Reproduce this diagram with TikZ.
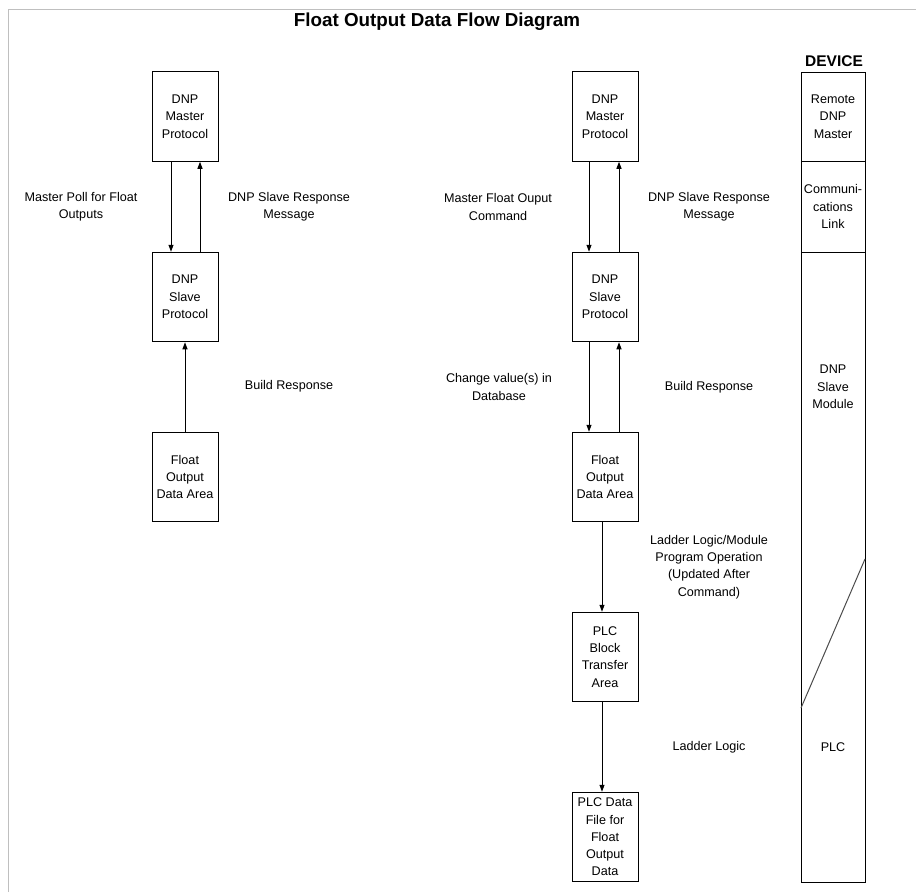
\documentclass[tikz,border=0pt]{standalone}
\usepackage{fontspec}
\setmainfont{Liberation Sans}
\usetikzlibrary{arrows.meta}
\begin{document}
\begin{tikzpicture}[x=1pt,y=-1pt,
  txt/.style={font=\fontsize{12.6}{17.3}\selectfont, align=center, inner sep=0pt},
  box/.style={draw, line width=1pt, minimum width=66pt, minimum height=89.5pt, inner sep=0pt, txt},
  devbox/.style={draw, line width=1pt, minimum width=64pt, inner sep=0pt, txt},
  arr/.style={line width=1pt, -{Triangle[length=7pt,width=5pt]}},
  frameline/.style={draw=black!25, line width=1pt}]
\useasboundingbox (0,0) rectangle (916,892);
\draw[frameline] (8,892) -- (8,9) -- (916,9);
\node[font=\bfseries\fontsize{18.8}{22}\selectfont, inner sep=0pt] (title) at (437,22) {Float Output Data Flow Diagram};

% left column
\node[box] (lm) at (185,116.5) {DNP\\Master\\Protocol};
\node[box] (ls) at (185,297) {DNP\\Slave\\Protocol};
\node[box] (lf) at (185,477) {Float\\Output\\Data Area};
\draw[arr] ([xshift=-14pt]lm.south) -- ([xshift=-14pt]ls.north);
\draw[arr] ([xshift=15pt]ls.north) -- ([xshift=15pt]lm.south);
\draw[arr] (lf.north) -- (ls.south);
\node[txt] (l1) at (81,207) {Master Poll for Float\\Outputs};
\node[txt] (l2) at (289,207) {DNP Slave Response\\Message};
\node[txt] (l3) at (289,386) {Build Response};

% right column
\node[box] (rm) at (605,116.5) {DNP\\Master\\Protocol};
\node[box] (rs) at (605,297) {DNP\\Slave\\Protocol};
\node[box] (rf) at (605,477) {Float\\Output\\Data Area};
\node[box] (rb) at (605,657) {PLC\\Block\\Transfer\\Area};
\node[box] (rd) at (605,837) {PLC Data\\File for\\Float\\Output\\Data};
\draw[arr] ([xshift=-16pt]rm.south) -- ([xshift=-16pt]rs.north);
\draw[arr] ([xshift=14pt]rs.north) -- ([xshift=14pt]rm.south);
\draw[arr] ([xshift=-16pt]rs.south) -- ([xshift=-16pt]rf.north);
\draw[arr] ([xshift=14pt]rf.north) -- ([xshift=14pt]rs.south);
\draw[arr] ([xshift=-3pt]rf.south) -- ([xshift=-3pt]rb.north);
\draw[arr] ([xshift=-3pt]rb.south) -- ([xshift=-3pt]rd.north);
\node[txt] (r1) at (498,207) {Master Float Ouput\\Command};
\node[txt] (r2) at (709,207) {DNP Slave Response\\Message};
\node[txt] (r3) at (499,387) {Change value(s) in\\Database};
\node[txt] (r4) at (709,387) {Build Response};
\node[txt] (r5) at (709,567) {Ladder Logic/Module\\Program Operation\\(Updated After\\Command)};
\node[txt] (r6) at (709,747) {Ladder Logic};

% device column
\node[font=\bfseries\fontsize{15.5}{18}\selectfont, inner sep=0pt] (devt) at (834,61) {DEVICE};
\node[devbox, minimum height=89pt] (d1) at (833,116.5) {Remote\\DNP\\Master};
\node[devbox, minimum height=91pt] (d2) at (833,206.5) {Communi-\\cations\\Link};
\node[devbox, minimum height=630pt] (d3) at (833,567) {};
\node[txt] (d3a) at (833,387) {DNP\\Slave\\Module};
\node[txt] (d3b) at (833,747) {PLC};
\coordinate (dgt) at (865,559);
\coordinate (dgb) at (801,708);
\draw[line width=1pt, black!70] (dgt) -- (dgb);
\end{tikzpicture}
\end{document}
